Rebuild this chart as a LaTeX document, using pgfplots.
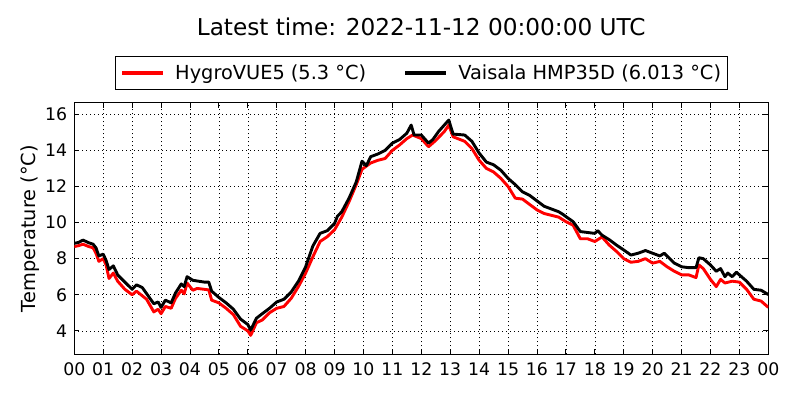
\documentclass[border=0pt]{standalone}
\usepackage{fontspec}
\setmainfont{DejaVu Sans}
\usepackage{pgfplots}
\pgfplotsset{compat=1.18}
\begin{document}
\begin{tikzpicture}
\begin{axis}[
  name=ax,
  scale only axis,
  width=694pt, height=251.6pt,
  xmin=0, xmax=24, ymin=2.7, ymax=16.64,
  xtick={0,1,...,24},
  xticklabels={00,01,02,03,04,05,06,07,08,09,10,11,12,13,14,15,16,17,18,19,20,21,22,23,00},
  ytick={4,6,8,10,12,14,16},
  /pgf/number format/assume math mode=true,
  ticklabel style={font=\fontsize{17.3}{20}\selectfont},
  xticklabel style={anchor=north, inner sep=0pt, yshift=-8.4pt},
  yticklabel style={anchor=east, inner sep=0pt, xshift=-7pt},
  tick align=inside,
  major tick length=5pt,
  every tick/.style={black, line width=0.8pt},
  axis line style={black, line width=1.1pt},
  grid=major,
  major grid style={black, line width=0.55pt, dash pattern=on 1pt off 3pt},
  title={Latest time: 2022-11-12 00:00:00 UTC},
  title style={at={(axis description cs:0.5,1)}, anchor=base, yshift=61pt, font=\fontsize{23.2}{27}\selectfont, inner sep=0pt},
  ylabel={Temperature (°C)},
  ylabel style={at={(axis description cs:-0.0559,0.5)}, anchor=base, rotate=0, inner sep=0pt, font=\fontsize{19.35}{23}\selectfont},
  legend columns=2,
  legend style={at={(0.5,1)}, anchor=south, yshift=12.4pt, draw=black, line width=0.9pt,
    inner xsep=6pt, inner ysep=0pt,
    font=\fontsize{19.35}{23}\selectfont,
    /tikz/every odd column/.append style={column sep=12.7pt},
    /tikz/every even column/.append style={column sep=38.5pt},
    nodes={inner xsep=0pt, inner ysep=8.7pt}},
  legend image code/.code={\path[draw=none, fill, #1] (0pt,-1.6pt) rectangle (41pt,1.6pt);},
  legend cell align=left,
]
\addplot[red, line width=2.9pt, line join=round, sharp plot] coordinates {
(0,8.67) (0.15,8.72) (0.3,8.8) (0.5,8.67) (0.65,8.6) (0.75,8.3) (0.85,7.85) (1.0,8.0) (1.1,7.65) (1.2,6.9)
(1.35,7.2) (1.5,6.75) (1.75,6.3) (2.0,6.0) (2.15,6.2) (2.5,5.75) (2.75,5.05) (2.9,5.2) (3.0,4.95) (3.15,5.35)
(3.35,5.25) (3.5,5.8) (3.7,6.25) (3.8,6.05) (3.9,6.65) (4.1,6.25) (4.25,6.35) (4.5,6.3) (4.65,6.27) (4.75,5.7)
(5.0,5.55) (5.25,5.25) (5.5,4.9) (5.75,4.25) (6.0,4.0) (6.1,3.75) (6.3,4.45) (6.5,4.6) (6.75,5.0) (7.0,5.25)
(7.25,5.35) (7.5,5.8) (7.75,6.45) (8.0,7.2) (8.25,8.1) (8.5,8.95) (8.75,9.22) (9.0,9.6) (9.25,10.3) (9.5,11.15)
(9.75,12.1) (9.95,12.95) (10.25,13.3) (10.5,13.45) (10.75,13.55) (11.0,14.0) (11.25,14.3) (11.5,14.65) (11.7,14.85) (12.0,14.65)
(12.25,14.2) (12.5,14.55) (12.8,15.05) (12.95,15.4) (13.1,14.75) (13.5,14.5) (13.75,14.1) (14.0,13.45) (14.25,13.0) (14.5,12.8)
(14.75,12.45) (15.0,12.0) (15.25,11.35) (15.5,11.3) (15.75,11.0) (16.0,10.7) (16.25,10.5) (16.5,10.4) (16.75,10.3) (17.0,10.05)
(17.25,9.85) (17.5,9.1) (17.75,9.1) (18.0,8.95) (18.25,9.2) (18.5,8.75) (18.75,8.4) (19.0,8.0) (19.25,7.8) (19.5,7.85)
(19.75,8.0) (20.0,7.75) (20.25,7.85) (20.5,7.55) (20.75,7.3) (21.0,7.1) (21.25,7.1) (21.5,6.95) (21.6,7.65) (21.75,7.45)
(22.0,6.85) (22.2,6.45) (22.35,6.85) (22.5,6.65) (22.75,6.75) (23.0,6.7) (23.25,6.3) (23.5,5.75) (23.75,5.65) (24.0,5.3)
};
\addlegendentry{HygroVUE5 (5.3 °C)}
\addplot[black, line width=2.9pt, line join=round, sharp plot] coordinates {
(0,8.85) (0.15,8.9) (0.3,9.03) (0.5,8.88) (0.65,8.8) (0.75,8.6) (0.85,8.15) (1.0,8.25) (1.1,7.9) (1.2,7.4)
(1.35,7.6) (1.5,7.1) (1.75,6.7) (2.0,6.3) (2.15,6.55) (2.35,6.4) (2.55,5.95) (2.75,5.5) (2.9,5.6) (3.0,5.3)
(3.15,5.7) (3.35,5.55) (3.5,6.1) (3.7,6.6) (3.8,6.45) (3.9,7.0) (4.1,6.8) (4.5,6.7) (4.65,6.7) (4.75,6.2)
(5.0,5.85) (5.25,5.55) (5.5,5.2) (5.75,4.65) (6.0,4.35) (6.1,4.05) (6.3,4.7) (6.5,4.95) (6.75,5.25) (7.0,5.6)
(7.25,5.75) (7.5,6.15) (7.75,6.75) (8.0,7.55) (8.25,8.7) (8.5,9.4) (8.75,9.55) (9.0,9.95) (9.1,10.35) (9.25,10.6)
(9.5,11.35) (9.75,12.25) (9.95,13.4) (10.1,13.15) (10.25,13.65) (10.5,13.8) (10.75,14.0) (11.0,14.4) (11.25,14.6) (11.5,14.95)
(11.65,15.4) (11.75,14.85) (12.0,14.85) (12.25,14.4) (12.4,14.6) (12.6,15.05) (12.85,15.5) (12.95,15.68) (13.1,14.9) (13.5,14.85)
(13.75,14.5) (14.0,13.85) (14.25,13.35) (14.5,13.2) (14.75,12.9) (15.0,12.45) (15.25,12.1) (15.5,11.7) (15.75,11.5) (16.0,11.2)
(16.25,10.9) (16.5,10.75) (16.75,10.6) (16.9,10.45) (17.0,10.33) (17.25,10.05) (17.5,9.5) (17.75,9.45) (18.0,9.4) (18.1,9.55)
(18.25,9.3) (18.5,9.05) (18.75,8.75) (19.0,8.48) (19.25,8.2) (19.5,8.3) (19.75,8.45) (20.0,8.3) (20.25,8.15) (20.4,8.3)
(20.75,7.75) (21.0,7.55) (21.25,7.5) (21.5,7.5) (21.6,8.05) (21.75,8.0) (22.0,7.65) (22.2,7.3) (22.35,7.45) (22.5,7.0)
(22.6,7.2) (22.75,7.0) (22.9,7.25) (23.0,7.1) (23.25,6.75) (23.5,6.3) (23.75,6.25) (24.0,6.01)
};
\addlegendentry{Vaisala HMP35D (6.013 °C)}
\end{axis}
\path (ax.south west) ++(-74.3pt,-45.7pt) rectangle ++(800pt,400pt);
\end{tikzpicture}
\end{document}
